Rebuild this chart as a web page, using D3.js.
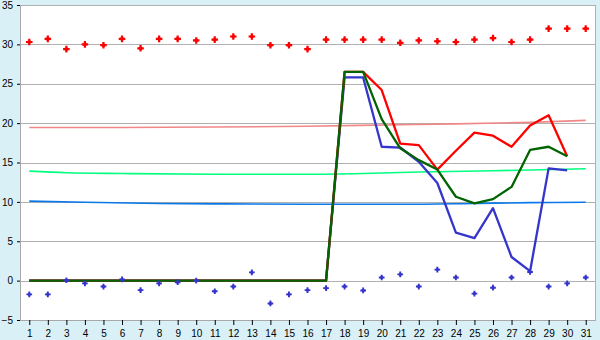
<!DOCTYPE html>
<html>
<head>
<meta charset="utf-8">
<script src="https://cdn.jsdelivr.net/npm/d3@7/dist/d3.min.js"></script>
<style>
  html, body { margin: 0; padding: 0; background: #d9f0f7; }
  svg { display: block; font-family: "DejaVu Sans", Verdana, sans-serif; }
  .axis text { font-size: 10px; fill: #000; }
  .axis .domain { stroke: #a8a8a8; }
  .axis .tick line { stroke: #000; }
</style>
</head>
<body>
<div id="chart"></div>
<script>
// days on the x axis
const days = d3.range(1, 32);
const yTicks = [-5, 0, 5, 10, 15, 20, 25, 30, 35];

// scatter series (one value per day)
const redDots = [30.3, 30.7, 29.4, 30.0, 29.9, 30.7, 29.5, 30.7, 30.7, 30.5,
                 30.6, 31.0, 31.0, 29.9, 29.9, 29.4, 30.6, 30.6, 30.6, 30.6,
                 30.2, 30.5, 30.4, 30.3, 30.6, 30.8, 30.3, 30.6, 32.0, 32.0, 32.0];
const blueDots = [-1.75, -1.75, 0.05, -0.35, -0.75, 0.15, -1.2, -0.35, -0.2, 0.0,
                  -1.35, -0.75, 1.05, -2.9, -1.75, -1.2, -0.95, -0.75, -1.25, 0.4,
                  0.8, -0.75, 1.4, 0.4, -1.65, -0.9, 0.4, 1.1, -0.75, -0.35, 0.4];

// line series, days 1..30
const blueLine = [0, 0, 0, 0, 0, 0, 0, 0, 0, 0, 0, 0, 0, 0, 0, 0, 0,
                  25.8, 25.8, 17.0, 16.9, 15.1, 12.4, 6.1, 5.4, 9.2, 3.0, 1.2, 14.25, 14.0];
const redLine = [0, 0, 0, 0, 0, 0, 0, 0, 0, 0, 0, 0, 0, 0, 0, 0, 0,
                 26.5, 26.5, 24.2, 17.4, 17.2, 14.1, 16.5, 18.8, 18.4, 17.0, 19.7, 21.0, 15.8];
const greenLine = [0, 0, 0, 0, 0, 0, 0, 0, 0, 0, 0, 0, 0, 0, 0, 0, 0,
                   26.5, 26.5, 20.5, 16.8, 15.3, 14.1, 10.65, 9.8, 10.35, 11.9, 16.6, 17.0, 15.8];

// trend lines, read at a few days
const redTrendDays = [1, 6, 11, 16, 21, 24, 28, 31];
const redTrend = [19.45, 19.45, 19.5, 19.6, 19.8, 19.9, 20.1, 20.35];
const greenTrendDays = [1, 3, 6, 11, 16, 19, 22, 26, 31];
const greenTrend = [13.9, 13.7, 13.6, 13.5, 13.5, 13.6, 13.8, 13.95, 14.2];
const blueTrendDays = [1, 4, 8, 11, 16, 21, 25, 28, 31];
const blueTrend = [10.1, 9.95, 9.8, 9.75, 9.7, 9.7, 9.8, 9.9, 9.95];

const W = 600, H = 340;
const margin = { top: 5, right: 5, bottom: 20, left: 20 };

const svg = d3.select("#chart").append("svg")
  .attr("width", W)
  .attr("height", H);

const x = d3.scalePoint()
  .domain(days)
  .range([margin.left, W - margin.right])
  .padding(0.5);

const y = d3.scaleLinear()
  .domain([-5, 35])
  .range([H - margin.bottom, margin.top]);

// plot background
svg.append("rect")
  .attr("x", margin.left)
  .attr("y", margin.top)
  .attr("width", W - margin.left - margin.right)
  .attr("height", H - margin.top - margin.bottom)
  .attr("fill", "#fff")
  .attr("stroke", "#b0b0b0")
  .attr("shape-rendering", "crispEdges");

// gridlines
svg.append("g")
  .selectAll("line")
  .data(yTicks)
  .enter().append("line")
  .attr("x1", margin.left)
  .attr("x2", W - margin.right)
  .attr("y1", d => Math.round(y(d)) + 0.5)
  .attr("y2", d => Math.round(y(d)) + 0.5)
  .attr("stroke", "#b0b0b0");

// axes
svg.append("g")
  .attr("class", "axis")
  .attr("transform", "translate(" + margin.left + ",0)")
  .call(d3.axisLeft(y).tickValues(yTicks).tickSize(3).tickPadding(4).tickSizeOuter(0));

svg.append("g")
  .attr("class", "axis")
  .attr("transform", "translate(0," + (H - margin.bottom) + ")")
  .call(d3.axisBottom(x).tickSize(5).tickPadding(5).tickSizeOuter(0));

// trend lines
const trend = d3.line()
  .x(d => x(d[0]))
  .y(d => y(d[1]))
  .curve(d3.curveMonotoneX);

[[redTrendDays, redTrend, "#f08888"],
 [greenTrendDays, greenTrend, "#00ff80"],
 [blueTrendDays, blueTrend, "#0a78e8"]].forEach(([ds, vs, color]) => {
  svg.append("path")
    .datum(ds.map((d, i) => [d, vs[i]]))
    .attr("fill", "none")
    .attr("stroke", color)
    .attr("stroke-width", 1.6)
    .attr("d", trend);
});

// main lines
const line = d3.line()
  .x((d, i) => x(days[i]))
  .y(d => y(d));

[[blueLine, "#3535cc"], [redLine, "#ff0000"], [greenLine, "#006400"]].forEach(([vs, color]) => {
  svg.append("path")
    .datum(vs)
    .attr("fill", "none")
    .attr("stroke", color)
    .attr("stroke-width", 2.3)
    .attr("stroke-linejoin", "round")
    .attr("d", line);
});

// scatter markers: a cross with a small filled core
function renderDots(vals, color, size) {
  const g = svg.append("g")
    .selectAll("g")
    .data(vals)
    .enter().append("g")
    .attr("transform", (d, i) => "translate(" + x(days[i]) + "," + y(d) + ")")
    .attr("fill", color);
  g.append("path").attr("d", d3.symbol().type(d3.symbolCross).size(size));
  g.append("path").attr("d", d3.symbol().type(d3.symbolSquare).size(size * 0.4));
}

renderDots(redDots, "#ff0000", 24);
renderDots(blueDots, "#3535cc", 18);
</script>
</body>
</html>
